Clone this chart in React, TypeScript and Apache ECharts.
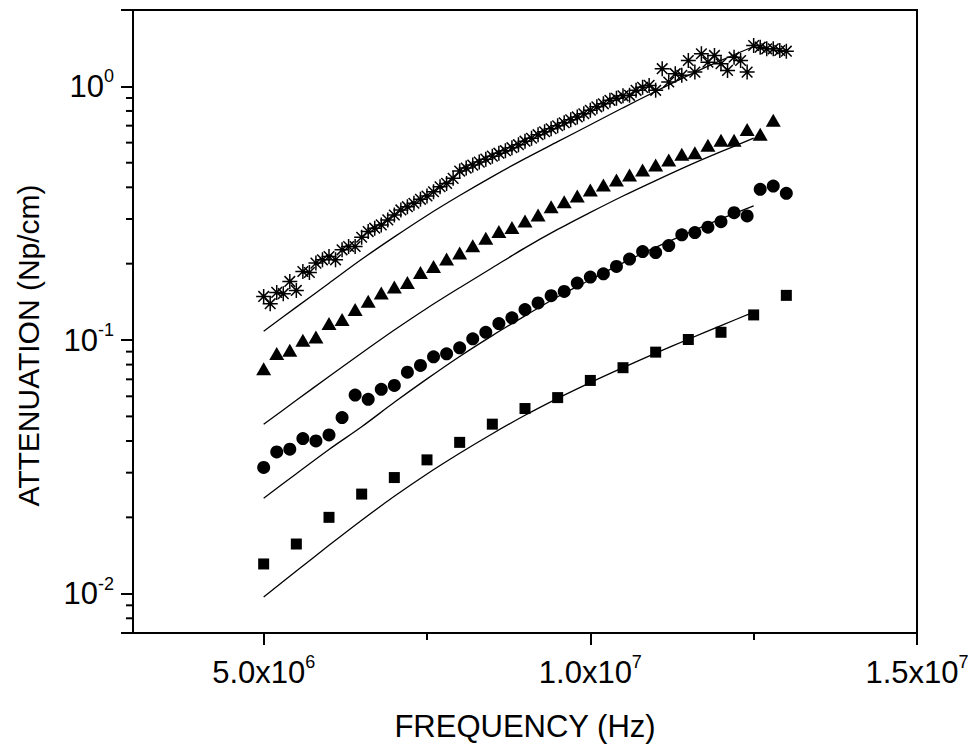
import React, { useEffect, useRef } from "react";
import * as echarts from "echarts";

const X_MIN = 3e6;
const X_MAX = 1.5e7;
const Y_MIN = 0.007;
const Y_MAX = 2;

const xLabelTicks = [5e6, 1e7, 1.5e7];
const xMinorTicks = [7.5e6, 1.25e7];
const yLabelTicks = [0.01, 0.1, 1];
const yMinorTicks = [
  0.008, 0.009, 0.02, 0.03, 0.04, 0.05, 0.06, 0.07, 0.08, 0.09,
  0.2, 0.3, 0.4, 0.5, 0.6, 0.7, 0.8, 0.9,
];

const xTitle = "FREQUENCY (Hz)";
const yTitle = "ATTENUATION (Np/cm)";

// frequencies in MHz
const starFreq = [
  5.0, 5.1, 5.2, 5.3, 5.4, 5.5, 5.6, 5.7, 5.8, 5.9,
  6.0, 6.1, 6.2, 6.3, 6.4, 6.5, 6.6, 6.7, 6.8, 6.9,
  7.0, 7.1, 7.2, 7.3, 7.4, 7.5, 7.6, 7.7, 7.8, 7.9,
  8.0, 8.1, 8.2, 8.3, 8.4, 8.5, 8.6, 8.7, 8.8, 8.9,
  9.0, 9.1, 9.2, 9.3, 9.4, 9.5, 9.6, 9.7, 9.8, 9.9,
  10.0, 10.1, 10.2, 10.3, 10.4, 10.5, 10.6, 10.7, 10.8, 10.9,
  11.0, 11.1, 11.2, 11.3, 11.4, 11.5, 11.6, 11.7, 11.8, 11.9,
  12.0, 12.1, 12.2, 12.3, 12.4, 12.5, 12.6, 12.7, 12.8, 12.9, 13.0,
];
const starVals = [
  0.1486, 0.1391, 0.1541, 0.1523, 0.1702, 0.1569, 0.1863, 0.1846, 0.201, 0.2071,
  0.2134, 0.2071, 0.2268, 0.2337, 0.2337, 0.2543, 0.2676, 0.276, 0.2844, 0.2976,
  0.3112, 0.3257, 0.3355, 0.346, 0.3587, 0.3696, 0.3843, 0.4019, 0.4145, 0.4338,
  0.4634, 0.4762, 0.4893, 0.5028, 0.5166, 0.5308, 0.5454, 0.5579, 0.5732, 0.5889,
  0.6079, 0.6246, 0.6448, 0.6625, 0.6808, 0.6995, 0.7187, 0.7385, 0.7576, 0.7797,
  0.8049, 0.8307, 0.8535, 0.881, 0.897, 0.9177, 0.9218, 0.9645, 0.991, 1.009,
  0.9645, 1.174, 1.04, 1.122, 1.105, 1.265, 1.138, 1.345, 1.246, 1.324,
  1.228, 1.156, 1.303, 1.265, 1.138, 1.449, 1.427, 1.406, 1.406, 1.385, 1.376,
];

const triFreq = [
  5.0, 5.2, 5.4, 5.6, 5.8, 6.0, 6.2, 6.4, 6.6, 6.8,
  7.0, 7.2, 7.4, 7.6, 7.8, 8.0, 8.2, 8.4, 8.6, 8.8,
  9.0, 9.2, 9.4, 9.6, 9.8, 10.0, 10.2, 10.4, 10.6, 10.8,
  11.0, 11.2, 11.4, 11.6, 11.8, 12.0, 12.2, 12.4, 12.6, 12.8,
];
const triVals = [
  0.077, 0.0885, 0.0912, 0.0998, 0.1029, 0.1161, 0.1204, 0.1318, 0.1421, 0.1532,
  0.1618, 0.1687, 0.1846, 0.195, 0.2085, 0.2202, 0.2351, 0.2521, 0.2676, 0.2775,
  0.2948, 0.3112, 0.3355, 0.3511, 0.3696, 0.3903, 0.4083, 0.4272, 0.447, 0.4676,
  0.4893, 0.5121, 0.5404, 0.5468, 0.5863, 0.6134, 0.6134, 0.6759, 0.6477, 0.7355,
];

const circFreq = [
  5.0, 5.2, 5.4, 5.6, 5.8, 6.0, 6.2, 6.4, 6.6, 6.8,
  7.0, 7.2, 7.4, 7.6, 7.8, 8.0, 8.2, 8.4, 8.6, 8.8,
  9.0, 9.2, 9.4, 9.6, 9.8, 10.0, 10.2, 10.4, 10.6, 10.8,
  11.0, 11.2, 11.4, 11.6, 11.8, 12.0, 12.2, 12.4, 12.6, 12.8, 13.0,
];
const circVals = [
  0.03146, 0.03623, 0.03713, 0.0409, 0.04002, 0.04225, 0.04946, 0.06068, 0.05836, 0.0639,
  0.06626, 0.0747, 0.07938, 0.0859, 0.08826, 0.0932, 0.1011, 0.1073, 0.1161, 0.1223,
  0.1318, 0.14, 0.1496, 0.1555, 0.1678, 0.1771, 0.1825, 0.195, 0.2085, 0.2233,
  0.2213, 0.2358, 0.2598, 0.2652, 0.2784, 0.2928, 0.3177, 0.3084, 0.3926, 0.4045, 0.3788,
];

const sqFreq = [
  5.0, 5.5, 6.0, 6.5, 7.0, 7.5, 8.0, 8.5, 9.0, 9.5,
  10.0, 10.5, 11.0, 11.5, 12.0, 12.5, 13.0,
];
const sqVals = [
  0.0131, 0.0157, 0.02, 0.0247, 0.0287, 0.0337, 0.0395, 0.0466, 0.0537, 0.0593,
  0.0693, 0.0778, 0.0896, 0.1005, 0.1073, 0.1256, 0.15,
];

const fitFreq = [
  5.0, 5.5, 6.0, 6.5, 7.0, 7.5, 8.0, 8.5, 9.0, 9.5,
  10.0, 10.5, 11.0, 11.5, 12.0, 12.5,
];
const fitStar = [
  0.1083, 0.1348, 0.1675, 0.2081, 0.2551, 0.3099, 0.3713, 0.4409, 0.5189, 0.6052,
  0.7057, 0.8232, 0.9558, 1.105, 1.265, 1.436,
];
const fitTri = [
  0.04656, 0.05785, 0.07188, 0.0889, 0.1095, 0.1335, 0.1608, 0.1927, 0.2309, 0.2729,
  0.3184, 0.3696, 0.4252, 0.4871, 0.5529, 0.6246,
];
const fitCirc = [
  0.02377, 0.02972, 0.03703, 0.04551, 0.05681, 0.07027, 0.08615, 0.1041, 0.1245, 0.1482,
  0.1729, 0.2016, 0.2319, 0.2646, 0.3002, 0.3377,
];
const fitSq = [
  0.0097, 0.01228, 0.01551, 0.01948, 0.0242, 0.02964, 0.03577, 0.04271, 0.0505, 0.0589,
  0.06795, 0.0778, 0.08873, 0.1007, 0.114, 0.1288,
];

const FONT = "'Liberation Sans', Arial, sans-serif";
const STAR_PATH =
  "path://M10,0L10,20M0,10L20,10M2.93,2.93L17.07,17.07M2.93,17.07L17.07,2.93";

const MAJOR_LEN = 12;
const MINOR_LEN = 7;

const pairs = (fx: number[], vals: number[]) =>
  fx.map((f, i) => [f * 1e6, vals[i]]);

function isTick(v: number, list: number[]) {
  return list.some((t) => Math.abs(v - t) / t < 1e-6);
}

export default function App() {
  const ref = useRef<HTMLDivElement>(null);

  useEffect(() => {
    if (!ref.current) return;
    const chart = echarts.init(ref.current, null, { renderer: "svg" });

    const fitLine = (name: string, vals: number[]) => ({
      name,
      type: "line",
      data: pairs(fitFreq, vals),
      showSymbol: false,
      smooth: 0.3,
      lineStyle: { color: "#000", width: 1.3 },
      z: 2,
    });

    const rich = {
      b: { fontSize: 31, fontFamily: FONT, color: "#000", lineHeight: 38 },
      s: {
        fontSize: 18,
        fontFamily: FONT,
        color: "#000",
        lineHeight: 24,
        verticalAlign: "top",
      },
    };

    chart.setOption({
      animation: false,
      backgroundColor: "#fff",
      grid: {
        left: 133,
        right: 59,
        top: 10,
        bottom: 114,
        show: true,
        borderColor: "#000",
        borderWidth: 2,
      },
      xAxis: [
        {
          type: "value",
          min: X_MIN,
          max: X_MAX,
          name: xTitle,
          nameLocation: "middle",
          nameGap: 78,
          nameTextStyle: { fontSize: 31, fontFamily: FONT, color: "#000" },
          axisLine: { show: true, onZero: false, lineStyle: { color: "#000", width: 2 } },
          axisTick: {
            show: true,
            customValues: xLabelTicks,
            length: MAJOR_LEN,
            lineStyle: { color: "#000", width: 2 },
          },
          splitLine: { show: false },
          axisLabel: {
            margin: 20,
            customValues: xLabelTicks,
            formatter: (v: number) => {
              const e = Math.floor(Math.log10(v) + 1e-9);
              const m = v / Math.pow(10, e);
              return `{b|${m.toFixed(1)}x10}{s|${e}}`;
            },
            rich,
          },
        },
        {
          type: "value",
          position: "bottom",
          min: X_MIN,
          max: X_MAX,
          axisLine: { show: false, onZero: false },
          axisTick: {
            show: true,
            customValues: xMinorTicks,
            length: MINOR_LEN,
            lineStyle: { color: "#000", width: 2 },
          },
          axisLabel: { show: false },
          splitLine: { show: false },
        },
      ],
      yAxis: {
        type: "log",
        min: Y_MIN,
        max: Y_MAX,
        name: yTitle,
        nameLocation: "middle",
        nameRotate: 90,
        nameGap: 90,
        nameTextStyle: {
          fontSize: 30,
          fontFamily: FONT,
          color: "#000",
          padding: [0, 48, 0, 0],
        },
        axisLine: { show: true, onZero: false, lineStyle: { color: "#000", width: 2 } },
        axisTick: { show: true, length: MAJOR_LEN, lineStyle: { color: "#000", width: 2 } },
        splitLine: { show: false },
        axisLabel: {
          margin: 19,
          formatter: (v: number) => {
            if (!isTick(v, yLabelTicks)) return "";
            const e = Math.round(Math.log10(v));
            return `{b|10}{s|${e}}`;
          },
          rich,
        },
      },
      series: [
        fitLine("fitStar", fitStar),
        fitLine("fitTri", fitTri),
        fitLine("fitCirc", fitCirc),
        fitLine("fitSq", fitSq),
        {
          name: "stars",
          type: "scatter",
          data: pairs(starFreq, starVals),
          symbol: STAR_PATH,
          symbolSize: 15,
          itemStyle: {
            color: "rgba(0,0,0,0)",
            borderColor: "#000",
            borderWidth: 1.5,
            opacity: 1,
          },
          z: 3,
        },
        {
          name: "triangles",
          type: "scatter",
          data: pairs(triFreq, triVals),
          symbol: "triangle",
          symbolSize: [15, 13],
          itemStyle: { color: "#000", opacity: 1 },
          z: 3,
        },
        {
          name: "circles",
          type: "scatter",
          data: pairs(circFreq, circVals),
          symbol: "circle",
          symbolSize: 13,
          itemStyle: { color: "#000", opacity: 1 },
          z: 3,
        },
        {
          name: "squares",
          type: "scatter",
          data: pairs(sqFreq, sqVals),
          symbol: "rect",
          symbolSize: 11,
          itemStyle: { color: "#000", opacity: 1 },
          z: 3,
        },
      ],
    });

    // minor y ticks (decade sub-divisions), placed through the chart's log scale
    const minorLines = yMinorTicks.map((v) => {
      const p = chart.convertToPixel({ xAxisIndex: 0, yAxisIndex: 0 }, [X_MIN, v]) as number[];
      return {
        type: "line",
        shape: { x1: p[0] - MINOR_LEN, y1: p[1], x2: p[0], y2: p[1] },
        style: { stroke: "#000", lineWidth: 2 },
      };
    });
    chart.setOption({ graphic: minorLines });

    return () => chart.dispose();
  }, []);

  return (
    <div
      ref={ref}
      style={{ position: "fixed", left: 0, top: 0, width: 976, height: 747, background: "#fff" }}
    />
  );
}
